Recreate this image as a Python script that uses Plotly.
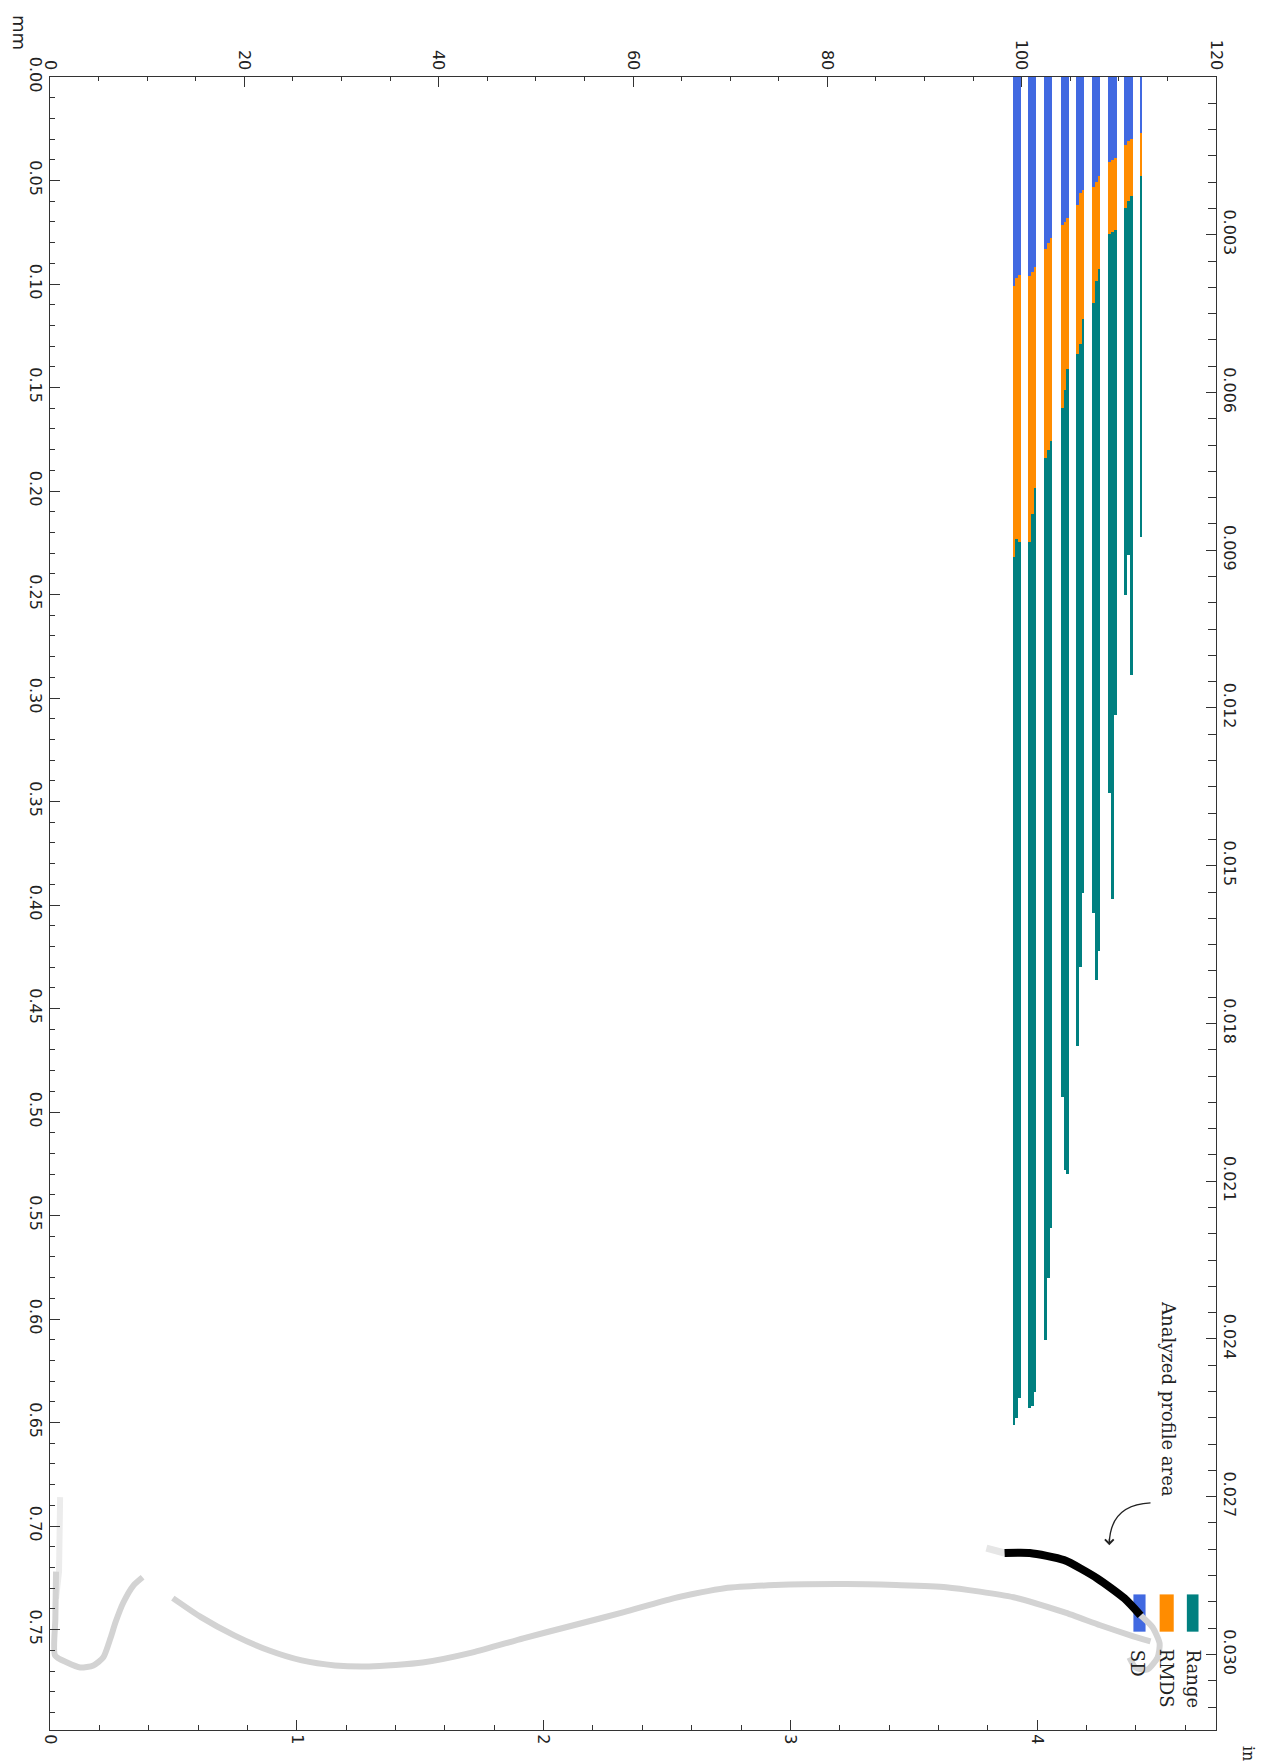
import plotly.graph_objects as go

# ---------------- data ----------------
# sub-bar positions along the profile (mm)
bar_pos = [99.21, 99.49, 99.77, 100.81, 101.09, 101.37, 102.47, 102.75, 103.03,
           104.17, 104.45, 104.73, 105.75, 106.03, 106.31, 107.40, 107.68, 107.96,
           109.07, 109.35, 109.63, 110.72, 111.00, 111.28, 112.30]
sd_vals = [0.101, 0.097, 0.0955, 0.096, 0.094, 0.0916, 0.083, 0.080, 0.0776,
           0.0717, 0.070, 0.0683, 0.062, 0.0562, 0.0548, 0.0533, 0.0509, 0.048,
           0.0412, 0.040, 0.0393, 0.033, 0.031, 0.030, 0.027]
rmds_vals = [0.2317, 0.223, 0.2244, 0.2244, 0.211, 0.1987, 0.184, 0.180, 0.176,
             0.160, 0.151, 0.141, 0.134, 0.129, 0.117, 0.109, 0.0984, 0.0926,
             0.0756, 0.075, 0.0737, 0.0635, 0.060, 0.0577, 0.048]
range_vals = [0.651, 0.648, 0.638, 0.643, 0.642, 0.635, 0.610, 0.580, 0.556,
              0.4925, 0.528, 0.530, 0.468, 0.430, 0.394, 0.404, 0.436, 0.422,
              0.346, 0.397, 0.308, 0.250, 0.2307, 0.289, 0.222]

# profile outline (mm, mm)
profA_faint_x = [1.04, 0.98, 0.93, 0.62]
profA_faint_y = [0.686, 0.700, 0.722, 0.735]
profA_x = [0.62, 0.55, 0.52, 1.76, 3.11, 4.46, 5.49, 6.22, 6.74, 7.56, 8.60, 9.53]
profA_y = [0.722, 0.745, 0.7625, 0.7659, 0.7683, 0.7673, 0.7634, 0.7542, 0.7465, 0.7368, 0.7286, 0.7247]
profB_x = [12.64, 15.54, 18.96, 22.49, 25.91, 29.33, 32.85, 38.34, 43.52, 48.70, 53.89, 59.07,
           64.25, 69.43, 74.61, 81.87, 87.05, 92.23, 99.17, 104.35, 108.08, 111.19, 113.26]
profB_y = [0.7348, 0.744, 0.7528, 0.7600, 0.7649, 0.7673, 0.7678, 0.7659, 0.7610, 0.7542, 0.7479, 0.7416,
           0.7348, 0.7300, 0.7285, 0.7280, 0.7285, 0.7295, 0.7344, 0.7416, 0.7479, 0.7528, 0.7557]
hook_x = [112.23, 113.47, 114.20, 113.99, 112.95, 111.71, 111.09]
hook_y = [0.7431, 0.7489, 0.7567, 0.7635, 0.7693, 0.7683, 0.7635]
analyzed_x = [98.24, 100.83, 104.35, 107.77, 110.57, 112.23]
analyzed_y = [0.7130, 0.7130, 0.7164, 0.7252, 0.7349, 0.7431]
analyzed_faint_x = [96.37, 98.24]
analyzed_faint_y = [0.7106, 0.7130]

in_ticks = [0.003, 0.006, 0.009, 0.012, 0.015, 0.018, 0.021, 0.024, 0.027, 0.030]
MM_MAX_X = 120.0
MM_MAX_Y = 0.7985
MM_PER_IN = 25.4

C_SD, C_RMDS, C_RANGE = "#4169E1", "#FF8C00", "#008080"
GRAY = "#d3d3d3"

widths = [0.28] * (len(bar_pos) - 1) + [0.2]

fig = go.Figure()
for vals, col in [(range_vals, C_RANGE), (rmds_vals, C_RMDS), (sd_vals, C_SD)]:
    fig.add_trace(go.Bar(x=bar_pos, y=vals, width=widths, marker_color=col,
                         marker_line_width=0, showlegend=False, hoverinfo="skip"))

line_gray = dict(color=GRAY, width=6, shape="spline", smoothing=0.6)
fig.add_trace(go.Scatter(x=profA_faint_x, y=profA_faint_y, mode="lines",
                         line=dict(color="#ececec", width=6), showlegend=False))
fig.add_trace(go.Scatter(x=profA_x, y=profA_y, mode="lines", line=line_gray, showlegend=False))
fig.add_trace(go.Scatter(x=profB_x, y=profB_y, mode="lines", line=line_gray, showlegend=False))
fig.add_trace(go.Scatter(x=hook_x, y=hook_y, mode="lines", line=line_gray, showlegend=False))
fig.add_trace(go.Scatter(x=analyzed_faint_x, y=analyzed_faint_y, mode="lines",
                         line=dict(color="#e6e6e6", width=7), showlegend=False))
fig.add_trace(go.Scatter(x=analyzed_x, y=analyzed_y, mode="lines",
                         line=dict(color="black", width=8, shape="spline", smoothing=0.6),
                         showlegend=False))
# anchor trace for secondary (inch) axes
fig.add_trace(go.Scatter(x=[0], y=[0], xaxis="x2", yaxis="y2", mode="markers",
                         marker=dict(opacity=0), showlegend=False, hoverinfo="skip"))

tickfont = dict(family="DejaVu Sans", size=16, color="#222")
axcommon = dict(showline=True, linecolor="#333", linewidth=1.3, ticks="inside",
                tickcolor="#333", tickwidth=1.3, ticklen=10, showgrid=False,
                zeroline=False, tickangle=90, tickfont=tickfont, automargin=False)

# page body has an 8px default margin: size the figure so the plot box lands at
# x 50..1208, y 77..1722 of the window
fig.update_layout(
    width=1256, height=1754,
    margin=dict(l=42, r=48, t=69, b=32),
    paper_bgcolor="white", plot_bgcolor="white",
    barmode="overlay", bargap=0,
    xaxis=dict(range=[0, MM_MAX_X], side="top", dtick=20, tick0=0, anchor="y",
               minor=dict(ticks="inside", ticklen=4, dtick=5, tickcolor="#333", tickwidth=1),
               **axcommon),
    yaxis=dict(range=[MM_MAX_Y, 0], side="left", dtick=0.05, tick0=0, tickformat=".2f",
               anchor="x",
               minor=dict(ticks="inside", ticklen=5, dtick=0.01, tickcolor="#333", tickwidth=1),
               **axcommon),
    xaxis2=dict(range=[0, MM_MAX_X / MM_PER_IN], overlaying="x", side="bottom", anchor="y",
                dtick=1, tick0=0,
                minor=dict(ticks="inside", ticklen=5, dtick=0.2, tickcolor="#333", tickwidth=1),
                **axcommon),
    yaxis2=dict(range=[MM_MAX_Y / MM_PER_IN, 0], overlaying="y", side="right", anchor="x",
                tickvals=in_ticks, ticktext=[f"{v:.3f}" for v in in_ticks],
                minor=dict(ticks="inside", ticklen=8, dtick=0.0005, tickcolor="#333", tickwidth=1),
                **axcommon),
)

# legend patches (drawn manually, rotated layout)
legend_items = [("Range", C_RANGE, 117.0, 118.2, 117.7, 0.7735),
                ("RMDS", C_RMDS, 114.2, 115.65, 114.9, 0.7735),
                ("SD", C_SD, 111.5, 112.75, 112.0, 0.7662)]
for name, col, x0, x1, tx, ty in legend_items:
    fig.add_shape(type="rect", xref="x", yref="y", x0=x0, x1=x1, y0=0.733, y1=0.751,
                  fillcolor=col, line=dict(width=0), layer="below")
    fig.add_annotation(x=tx, y=ty, xref="x", yref="y", text=name, showarrow=False,
                       textangle=90, xanchor="center", yanchor="middle",
                       font=dict(family="DejaVu Serif", size=18, color="#222"))

fig.add_annotation(x=115.13, y=0.6385, xref="x", yref="y", text="Analyzed profile area",
                   showarrow=False, textangle=90, xanchor="center", yanchor="middle",
                   font=dict(family="DejaVu Serif", size=18, color="#222"))
fig.add_shape(type="path", xref="x", yref="y",
              path="M 113.26,0.6888 Q 109.1,0.6897 109.02,0.7085",
              line=dict(color="#222", width=1.3))
fig.add_annotation(x=109.02, y=0.7092, xref="x", yref="y", text="", showarrow=True,
                   ax=0, ay=-8, arrowhead=4, arrowsize=1.3, arrowwidth=1.3, arrowcolor="#222")

fig.add_annotation(x=-0.0262, y=1.027, xref="paper", yref="paper", text="mm", showarrow=False,
                   textangle=90, xanchor="center", yanchor="middle", borderpad=0,
                   font=dict(family="DejaVu Sans", size=18, color="#222"))
fig.add_annotation(x=1.0285, y=-0.0140, xref="paper", yref="paper", text="in", showarrow=False,
                   textangle=90, xanchor="center", yanchor="middle", borderpad=0,
                   font=dict(family="DejaVu Serif", size=16, color="#222"))

fig.write_html("out.html")
